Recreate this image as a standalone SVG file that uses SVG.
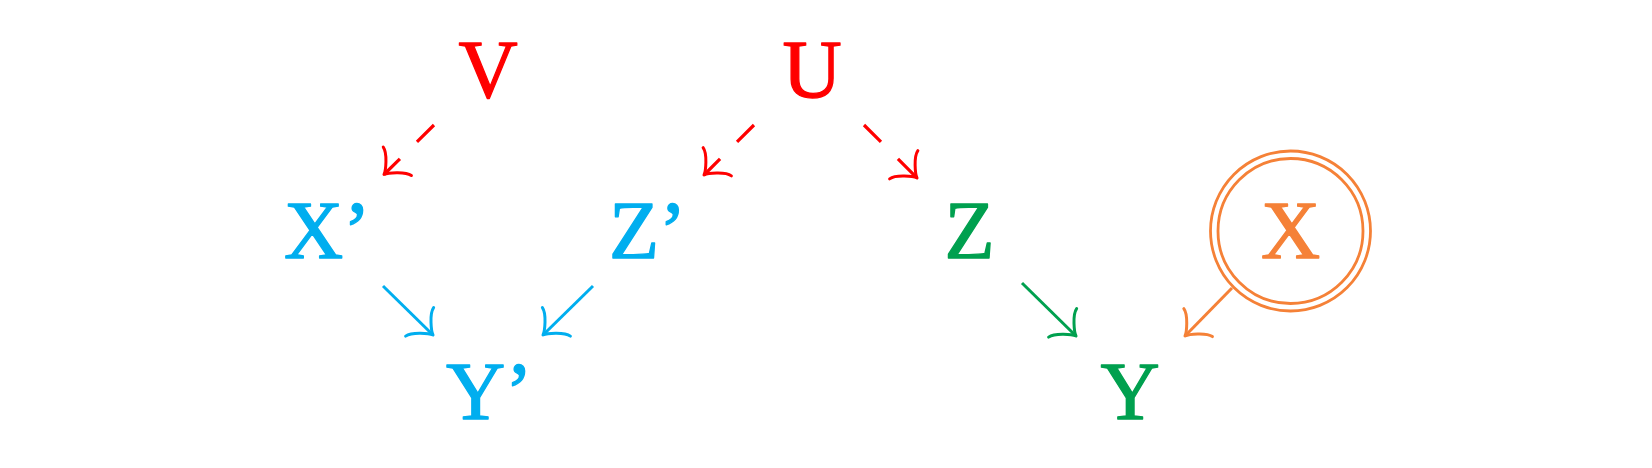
<svg xmlns="http://www.w3.org/2000/svg" width="1652" height="468" viewBox="0 0 1652 468">
<style>
.lbl{font-family:"Liberation Serif","Times New Roman",serif;font-size:82px;stroke-width:1.3;stroke-linejoin:round}
.red{fill:#FF0000;stroke:#FF0000}.blue{fill:#00AEEF;stroke:#00AEEF}.green{fill:#00A04F;stroke:#00A04F}.orange{fill:#F58137;stroke:#F58137}
.edge{fill:none;stroke-width:3}
.dash{stroke-dasharray:24 24;stroke-width:3.2}
.head{fill:none;stroke-linecap:round;stroke-linejoin:round;stroke-width:3}
</style>
<defs>
<marker id="hr" markerUnits="userSpaceOnUse" orient="auto" refX="0" refY="0" markerWidth="40" markerHeight="50" overflow="visible"><path class="head" stroke="#FF0000" stroke-width="3.2" d="M-18.75 20 C-17.5 12.5 -3.75 1.25 0 0 C-3.75 -1.25 -17.5 -12.5 -18.75 -20"/></marker>
<marker id="hb" markerUnits="userSpaceOnUse" orient="auto" refX="0" refY="0" markerWidth="40" markerHeight="50" overflow="visible"><path class="head" stroke="#00AEEF" d="M-18.75 20 C-17.5 12.5 -3.75 1.25 0 0 C-3.75 -1.25 -17.5 -12.5 -18.75 -20"/></marker>
<marker id="hg" markerUnits="userSpaceOnUse" orient="auto" refX="0" refY="0" markerWidth="40" markerHeight="50" overflow="visible"><path class="head" stroke="#00A04F" d="M-18.75 20 C-17.5 12.5 -3.75 1.25 0 0 C-3.75 -1.25 -17.5 -12.5 -18.75 -20"/></marker>
<marker id="ho" markerUnits="userSpaceOnUse" orient="auto" refX="0" refY="0" markerWidth="40" markerHeight="50" overflow="visible"><path class="head" stroke="#F58137" d="M-18.75 20 C-17.5 12.5 -3.75 1.25 0 0 C-3.75 -1.25 -17.5 -12.5 -18.75 -20"/></marker>
</defs>
<rect width="1652" height="468" fill="#FFFFFF"/>
<g id="node-V"><text class="lbl red" x="488" y="97" text-anchor="middle">V</text></g>
<g id="node-U"><text class="lbl red" x="812" y="97" text-anchor="middle">U</text></g>
<g id="node-Xp"><text class="lbl blue" x="284" y="258">X’</text></g>
<g id="node-Zp"><text class="lbl blue" x="609" y="258">Z’</text></g>
<g id="node-Yp"><text class="lbl blue" x="446" y="419">Y’</text></g>
<g id="node-Z"><text class="lbl green" x="969.5" y="258" text-anchor="middle">Z</text></g>
<g id="node-Y"><text class="lbl green" x="1130" y="419" text-anchor="middle">Y</text></g>
<g id="node-X">
<circle cx="1290.5" cy="231" r="80" fill="none" stroke="#F58137" stroke-width="2.8"/>
<circle cx="1290.5" cy="231" r="72.5" fill="none" stroke="#F58137" stroke-width="2.8"/>
<text class="lbl orange" x="1290.5" y="258" text-anchor="middle">X</text>
</g>
<g id="connectors">
<line class="edge dash" stroke="#FF0000" x1="434" y1="125" x2="384" y2="174.5" marker-end="url(#hr)"/>
<line class="edge dash" stroke="#FF0000" x1="754" y1="125" x2="704" y2="175" marker-end="url(#hr)"/>
<line class="edge dash" stroke="#FF0000" x1="864" y1="125" x2="917" y2="178" marker-end="url(#hr)"/>
<line class="edge" stroke="#00AEEF" x1="383" y1="286" x2="433" y2="335" marker-end="url(#hb)"/>
<line class="edge" stroke="#00AEEF" x1="593" y1="286" x2="543" y2="335" marker-end="url(#hb)"/>
<line class="edge" stroke="#00A04F" x1="1022" y1="283" x2="1076" y2="336" marker-end="url(#hg)"/>
<line class="edge" stroke="#F58137" x1="1232" y1="288" x2="1185" y2="336" marker-end="url(#ho)"/>
</g>
</svg>
